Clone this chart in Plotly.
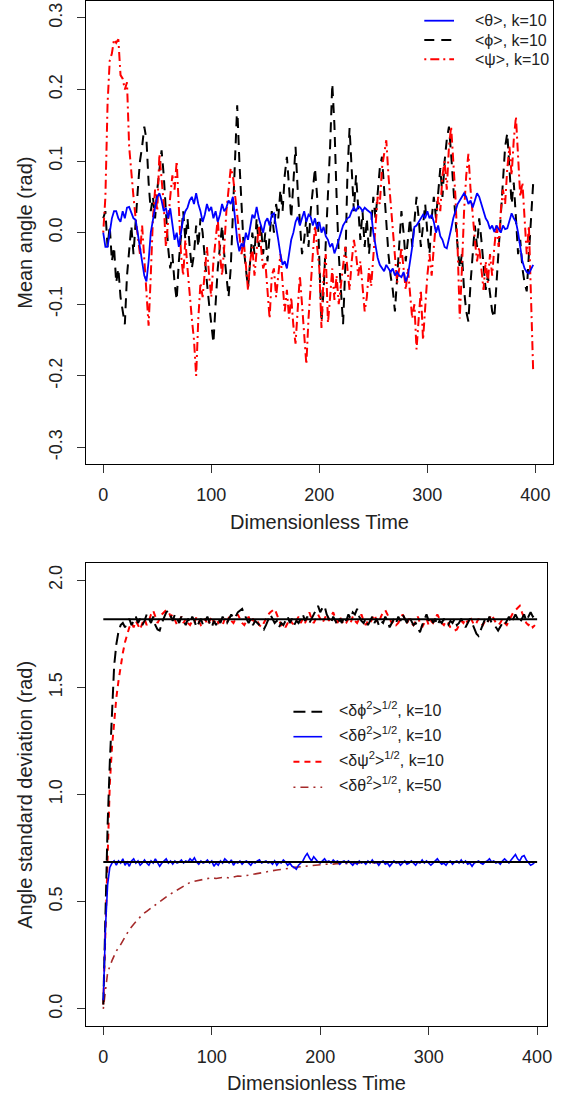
import plotly.graph_objects as go

# ---------------- data ----------------
# top panel: mean angles, sampled every 2 time units (t = 0..398)
theta_mean = [
    0.0, -0.02, -0.02, 0.0, 0.02, 0.03, 0.03, 0.02, 0.015, 0.03,
    0.02, 0.035, 0.036, 0.028, 0.02, 0.018, 0.0, -0.02, -0.04, -0.06,
    -0.068, -0.04, 0.0, 0.02, 0.035, 0.05, 0.055, 0.045, 0.03, 0.035,
    0.02, 0.034, 0.01, -0.01, 0.0, -0.02, 0.0, 0.02, 0.03, 0.035,
    0.045, 0.05, 0.04, 0.055, 0.04, 0.03, 0.015, 0.025, 0.04, 0.03,
    0.036, 0.02, 0.03, 0.015, 0.025, 0.04, 0.03, 0.035, 0.045, 0.04,
    0.05, 0.02, -0.01, -0.026, -0.015, -0.02, 0.0, -0.01, 0.01, 0.025,
    0.02, 0.036, 0.02, 0.01, 0.0, 0.015, 0.02, 0.01, 0.025, 0.027,
    0.01, -0.01, -0.03, -0.045, -0.04, -0.05, -0.03, -0.01, 0.0, 0.015,
    0.022, 0.01, 0.02, 0.03, 0.015, 0.025, 0.022, 0.01, 0.02, 0.005,
    0.015, 0.0, 0.008, -0.005, -0.01, -0.02, -0.015, -0.029, -0.02, -0.01,
    0.0, 0.01, 0.015, 0.02, 0.022, 0.03, 0.035, 0.03, 0.037, 0.035,
    0.03, 0.035, 0.032, 0.03, 0.027, 0.0, -0.02, -0.035, -0.045, -0.05,
    -0.054, -0.045, -0.05, -0.055, -0.05, -0.06, -0.055, -0.06, -0.062, -0.055,
    -0.068, -0.06, -0.04, -0.02, 0.008, 0.01, 0.015, 0.02, 0.025, 0.02,
    0.03, 0.02, 0.025, 0.015, 0.0, 0.01, -0.005, -0.01, -0.02, -0.022,
    -0.01, 0.005, 0.02, 0.03, 0.04, 0.045, 0.05, 0.055, 0.05, 0.04,
    0.045, 0.035, 0.045, 0.055, 0.05, 0.04, 0.032, 0.02, 0.015, 0.005,
    0.01, 0.001, 0.01, 0.005, 0.0, 0.01, 0.005, 0.006, 0.015, 0.027,
    0.02, 0.015, 0.0, -0.02, -0.04, -0.05, -0.055, -0.057, -0.05, -0.045,
]
phi_mean = [
    0.02, 0.03, -0.02, 0.01, -0.04, -0.02, -0.07, -0.05, -0.09, -0.11,
    -0.128, -0.06, -0.02, 0.01, -0.03, 0.02, 0.06, 0.1, 0.12, 0.148,
    0.13, 0.07, 0.03, 0.05, 0.02, 0.06, 0.09, 0.115, 0.08, 0.03,
    -0.02, -0.05, -0.03, -0.07, -0.094, -0.04, 0.0, 0.03, -0.01, 0.02,
    -0.02, -0.05, -0.03, 0.01, -0.02, 0.02, 0.0, -0.04, -0.07, -0.1,
    -0.13, -0.154, -0.1, -0.05, -0.02, 0.01, -0.03, -0.06, -0.09, -0.05,
    0.03, 0.12, 0.178, 0.1, 0.04, -0.02, -0.05, -0.077, -0.04, 0.0,
    -0.03, 0.02, -0.02, 0.01, -0.03, 0.0, -0.04, -0.01, 0.03, 0.0,
    0.04, 0.02, 0.06, 0.03, 0.08, 0.106, 0.06, 0.02, 0.07, 0.12,
    0.06, 0.01, -0.03, -0.01, 0.02, -0.02, 0.03, 0.06, 0.09, 0.05,
    -0.03, -0.124, -0.08, -0.02, 0.05, 0.12, 0.208, 0.15, 0.05, -0.03,
    -0.08, -0.128, -0.05, 0.08, 0.146, 0.09, 0.03, 0.08, 0.04, -0.01,
    0.03, -0.02, 0.02, -0.03, 0.01, 0.05, 0.02, 0.06, 0.09, 0.106,
    0.06, 0.02, -0.03, -0.06, -0.08, -0.11, -0.06, -0.02, 0.03, 0.0,
    -0.04, -0.01, 0.02, -0.02, 0.01, 0.05, 0.02, -0.02, 0.01, 0.04,
    0.0, -0.03, 0.02, 0.05, 0.02, 0.06, 0.09, 0.05, 0.1, 0.13,
    0.148, 0.11, 0.06, 0.02, -0.02, -0.05, -0.03, -0.08, -0.11, -0.124,
    -0.07, -0.03, 0.01, -0.02, 0.02, -0.01, -0.05, -0.08, -0.06, -0.09,
    -0.11, -0.119, -0.07, -0.03, 0.02, 0.08, 0.12, 0.139, 0.09, 0.04,
    0.07, 0.02, -0.03, -0.01, -0.05, -0.07, -0.082, -0.03, 0.03, 0.07,
]
psi_mean = [
    0.0, 0.05, 0.18, 0.24, 0.25, 0.27, 0.265, 0.27, 0.22, 0.215,
    0.2, 0.21, 0.12, 0.08, 0.05, 0.02, -0.01, -0.03, 0.01, -0.04,
    -0.08, -0.13, -0.06, 0.02, 0.06, 0.03, 0.11, 0.07, 0.04, -0.02,
    0.02, 0.05, 0.08, 0.06, 0.10, 0.04, -0.03, -0.06, -0.01, -0.05,
    -0.09, -0.12, -0.15, -0.20, -0.12, -0.07, -0.09, -0.05, -0.02, -0.06,
    -0.09, -0.04, -0.01, 0.02, -0.03, -0.06, -0.02, 0.03, 0.06, 0.09,
    0.08, 0.05, 0.02, 0.0, -0.03, -0.01, -0.05, -0.08, -0.04, -0.02,
    -0.06, -0.03, 0.01, -0.02, -0.05, -0.04, -0.08, -0.12, -0.06, -0.05,
    -0.09, -0.06, -0.03, -0.07, -0.11, -0.08, -0.12, -0.09, -0.13, -0.155,
    -0.1, -0.06, -0.1, -0.14, -0.184, -0.12, -0.07, -0.03, 0.01, -0.02,
    -0.05, -0.133, -0.06, -0.03, -0.126, -0.09, -0.05, -0.094, -0.06, -0.1,
    -0.07, -0.04, -0.02, -0.05, -0.08, -0.04, -0.01, -0.03, -0.06, -0.04,
    -0.08, -0.11, -0.09, -0.05, -0.075, -0.03, 0.02, 0.05, 0.04, 0.09,
    0.11, 0.129, 0.08, 0.04, 0.01, -0.03, -0.07, -0.05, -0.02, -0.05,
    -0.08, -0.05, -0.09, -0.12, -0.1, -0.163, -0.12, -0.08, -0.15, -0.1,
    -0.06, -0.03, -0.06, -0.02, 0.02, 0.05, 0.03, 0.08, 0.1, 0.06,
    0.12, 0.148, 0.1, 0.05, -0.02, -0.12, -0.05, 0.03, 0.08, 0.11,
    0.06, 0.02, -0.01, -0.04, -0.02, -0.05, -0.08, -0.04, -0.07, -0.03,
    -0.06, -0.02, 0.01, -0.02, 0.03, 0.06, 0.04, 0.09, 0.12, 0.08,
    0.13, 0.162, 0.1, 0.05, 0.07, 0.02, -0.03, 0.01, -0.08, -0.196,
]
t_top = [2 * i for i in range(len(theta_mean))]

# bottom panel: standard deviations, every 2 time units (t = 0..398)
phi_sd = [
    0.02, 0.45, 0.86, 1.15, 1.38, 1.6, 1.7, 1.76, 1.79, 1.80,
    1.78, 1.8, 1.82, 1.79, 1.81, 1.83, 1.8, 1.82, 1.79, 1.81,
    1.84, 1.82, 1.8, 1.83, 1.79, 1.77, 1.765, 1.8, 1.83, 1.85,
    1.858, 1.83, 1.81, 1.84, 1.82, 1.8, 1.83, 1.81, 1.79, 1.82,
    1.8, 1.83, 1.81, 1.78, 1.8, 1.82, 1.79, 1.81, 1.83, 1.8,
    1.78, 1.81, 1.79, 1.82, 1.8, 1.83, 1.81, 1.8, 1.82, 1.84,
    1.82, 1.83, 1.85, 1.86, 1.866, 1.84, 1.82, 1.8, 1.82, 1.79,
    1.81, 1.8, 1.79, 1.78, 1.77, 1.79, 1.82, 1.84, 1.82, 1.8,
    1.81, 1.78, 1.8, 1.79, 1.81, 1.83, 1.8, 1.82, 1.79, 1.81,
    1.8, 1.82, 1.84, 1.81, 1.83, 1.8, 1.82, 1.84, 1.86, 1.88,
    1.85, 1.87, 1.88, 1.84, 1.82, 1.8, 1.83, 1.81, 1.79, 1.82,
    1.8, 1.83, 1.81, 1.84, 1.82, 1.85, 1.84, 1.866, 1.83, 1.81,
    1.8, 1.82, 1.79, 1.81, 1.83, 1.8, 1.82, 1.79, 1.81, 1.8,
    1.83, 1.81, 1.78, 1.8, 1.82, 1.8, 1.83, 1.81, 1.84, 1.82,
    1.8, 1.83, 1.81, 1.79, 1.8, 1.78, 1.757, 1.79, 1.82, 1.84,
    1.81, 1.83, 1.8, 1.82, 1.79, 1.81, 1.8, 1.82, 1.8, 1.79,
    1.81, 1.8, 1.82, 1.79, 1.8, 1.82, 1.8, 1.78, 1.8, 1.82,
    1.8, 1.77, 1.75, 1.74, 1.77, 1.8, 1.82, 1.8, 1.83, 1.8,
    1.79, 1.78, 1.765, 1.78, 1.8, 1.79, 1.81, 1.83, 1.8, 1.82,
    1.84, 1.82, 1.8, 1.82, 1.84, 1.81, 1.83, 1.85, 1.83, 1.84,
]
theta_sd = [
    0.04, 0.38, 0.58, 0.66, 0.68, 0.69, 0.67, 0.69, 0.68, 0.7,
    0.67, 0.685, 0.665, 0.69, 0.7, 0.68, 0.69, 0.67, 0.68, 0.695,
    0.68, 0.67, 0.69, 0.68, 0.7, 0.685, 0.665, 0.68, 0.69, 0.7,
    0.68, 0.69, 0.675, 0.69, 0.68, 0.685, 0.695, 0.68, 0.69, 0.685,
    0.7, 0.69, 0.705, 0.685, 0.675, 0.69, 0.68, 0.685, 0.695, 0.68,
    0.69, 0.665, 0.68, 0.67, 0.69, 0.68, 0.7, 0.69, 0.68, 0.695,
    0.67, 0.685, 0.68, 0.69, 0.675, 0.685, 0.69, 0.68, 0.67, 0.685,
    0.68, 0.69, 0.695, 0.68, 0.685, 0.69, 0.68, 0.685, 0.675, 0.69,
    0.67, 0.685, 0.68, 0.695, 0.685, 0.67, 0.68, 0.665, 0.66, 0.651,
    0.67, 0.68, 0.69, 0.71, 0.725, 0.705, 0.69, 0.71, 0.695, 0.685,
    0.68, 0.69, 0.7, 0.685, 0.69, 0.68, 0.695, 0.685, 0.69, 0.675,
    0.685, 0.69, 0.68, 0.69, 0.68, 0.67, 0.685, 0.675, 0.69, 0.68,
    0.685, 0.675, 0.69, 0.68, 0.695, 0.68, 0.685, 0.67, 0.685, 0.69,
    0.675, 0.68, 0.665, 0.68, 0.69, 0.68, 0.685, 0.67, 0.68, 0.69,
    0.675, 0.68, 0.69, 0.68, 0.67, 0.685, 0.68, 0.695, 0.68, 0.69,
    0.68, 0.67, 0.68, 0.69, 0.7, 0.685, 0.675, 0.68, 0.67, 0.685,
    0.69, 0.675, 0.685, 0.69, 0.68, 0.695, 0.68, 0.69, 0.675, 0.68,
    0.665, 0.68, 0.685, 0.69, 0.68, 0.675, 0.685, 0.69, 0.7, 0.685,
    0.69, 0.68, 0.685, 0.675, 0.69, 0.7, 0.69, 0.68, 0.695, 0.71,
    0.72, 0.7, 0.69, 0.71, 0.715, 0.695, 0.68, 0.67, 0.675, 0.685,
]
psi_sd = [
    0.02, 0.4, 0.8, 1.05, 1.22, 1.35, 1.45, 1.53, 1.6, 1.66,
    1.71, 1.75, 1.78, 1.8, 1.78, 1.81, 1.79, 1.77, 1.8, 1.82,
    1.79, 1.81, 1.84, 1.858, 1.83, 1.8, 1.82, 1.84, 1.85, 1.86,
    1.855, 1.83, 1.84, 1.81, 1.79, 1.81, 1.83, 1.8, 1.82, 1.8,
    1.79, 1.81, 1.8, 1.83, 1.81, 1.79, 1.8, 1.82, 1.79, 1.81,
    1.83, 1.8, 1.82, 1.8, 1.81, 1.79, 1.82, 1.8, 1.83, 1.81,
    1.8, 1.82, 1.84, 1.82, 1.8, 1.79, 1.81, 1.83, 1.8, 1.82,
    1.8, 1.81, 1.79, 1.78, 1.8, 1.82, 1.84, 1.85, 1.86, 1.866,
    1.84, 1.81, 1.79, 1.8, 1.78, 1.8, 1.82, 1.8, 1.79, 1.81,
    1.83, 1.8, 1.82, 1.8, 1.83, 1.85, 1.82, 1.8, 1.82, 1.84,
    1.82, 1.8, 1.82, 1.84, 1.81, 1.83, 1.85, 1.82, 1.8, 1.83,
    1.81, 1.79, 1.8, 1.82, 1.8, 1.83, 1.81, 1.8, 1.82, 1.84,
    1.81, 1.79, 1.81, 1.8, 1.82, 1.84, 1.81, 1.8, 1.83, 1.85,
    1.86, 1.84, 1.82, 1.8, 1.81, 1.79, 1.8, 1.82, 1.84, 1.82,
    1.8, 1.82, 1.8, 1.79, 1.81, 1.83, 1.8, 1.78, 1.8, 1.82,
    1.79, 1.81, 1.8, 1.82, 1.84, 1.82, 1.8, 1.79, 1.81, 1.8,
    1.78, 1.77, 1.765, 1.77, 1.79, 1.81, 1.8, 1.82, 1.8, 1.83,
    1.81, 1.79, 1.8, 1.82, 1.8, 1.79, 1.81, 1.8, 1.82, 1.84,
    1.82, 1.8, 1.79, 1.8, 1.82, 1.8, 1.79, 1.81, 1.83, 1.85,
    1.86, 1.87, 1.88, 1.85, 1.82, 1.8, 1.79, 1.8, 1.78, 1.79,
]
t_sd = [2 * i for i in range(len(phi_sd))]

# k=50 theta standard deviation, every 4 time units (t = 0..396)
theta50_sd = [
    0.0, 0.17, 0.225, 0.27, 0.3, 0.335, 0.37, 0.395, 0.42, 0.44,
    0.455, 0.47, 0.487, 0.5, 0.515, 0.53, 0.542, 0.555, 0.565, 0.58,
    0.59, 0.595, 0.6, 0.605, 0.61, 0.612, 0.608, 0.612, 0.615, 0.61,
    0.615, 0.62, 0.618, 0.622, 0.625, 0.63, 0.632, 0.635, 0.64, 0.645,
    0.648, 0.65, 0.652, 0.656, 0.66, 0.662, 0.665, 0.665, 0.667, 0.67,
    0.672, 0.674, 0.676, 0.675, 0.678, 0.676, 0.679, 0.68, 0.678, 0.681,
    0.68, 0.682, 0.68, 0.683, 0.681, 0.683, 0.682, 0.684, 0.682, 0.683,
    0.684, 0.682, 0.685, 0.683, 0.684, 0.685, 0.683, 0.684, 0.686, 0.684,
    0.685, 0.683, 0.685, 0.686, 0.684, 0.685, 0.686, 0.684, 0.685, 0.686,
    0.685, 0.684, 0.686, 0.685, 0.684, 0.686, 0.685, 0.684, 0.686, 0.685,
]
t_sd50 = [4 * i for i in range(len(theta50_sd))]

# reference (equilibrium) levels drawn as horizontal lines
ref_levels = [1.818, 0.685]
ref_x = [0, 400]

x_ticks = [0, 100, 200, 300, 400]
y1_ticks = [-0.3, -0.2, -0.1, 0.0, 0.1, 0.2, 0.3]
y1_labels = ["-0.3", "-0.2", "-0.1", "0.0", "0.1", "0.2", "0.3"]
y2_ticks = [0.0, 0.5, 1.0, 1.5, 2.0]
y2_labels = ["0.0", "0.5", "1.0", "1.5", "2.0"]

top_legend = ["&lt;θ&gt;, k=10", "&lt;ϕ&gt;, k=10", "&lt;ψ&gt;, k=10"]
bot_legend = [
    "&lt;δϕ<sup>2</sup>&gt;<sup>1/2</sup>, k=10",
    "&lt;δθ<sup>2</sup>&gt;<sup>1/2</sup>, k=10",
    "&lt;δψ<sup>2</sup>&gt;<sup>1/2</sup>, k=10",
    "&lt;δθ<sup>2</sup>&gt;<sup>1/2</sup>, k=50",
]

# ---------------- styling ----------------
W, H = 577, 1098
FONT = "Liberation Sans, Arial, Helvetica, sans-serif"
TXT = "#222222"

BLUE = "#0000FF"
RED = "#FF0000"
BLACK = "#000000"
BROWN = "#A52A2A"

top_styles = [
    dict(color=BLUE, width=1.8, dash="solid"),
    dict(color=BLACK, width=2, dash="10px,7px"),
    dict(color=RED, width=2, dash="2px,4px,9px,4px"),
]
bot_styles = [
    dict(color=BLACK, width=2, dash="12px,6px"),
    dict(color=BLUE, width=1.6, dash="solid"),
    dict(color=RED, width=2, dash="6px,5px"),
    dict(color=BROWN, width=1.6, dash="2px,5px,8px,5px"),
]


def fx(x):
    return x / W


def fy(y):
    return 1 - y / H


fig = go.Figure()

# top panel traces (black, red, then blue on top)
fig.add_trace(go.Scatter(x=t_top, y=phi_mean, mode="lines", line=top_styles[1],
                         name="<ϕ>, k=10", xaxis="x", yaxis="y", showlegend=False))
fig.add_trace(go.Scatter(x=t_top, y=psi_mean, mode="lines", line=top_styles[2],
                         name="<ψ>, k=10", xaxis="x", yaxis="y", showlegend=False))
fig.add_trace(go.Scatter(x=t_top, y=theta_mean, mode="lines", line=top_styles[0],
                         name="<θ>, k=10", xaxis="x", yaxis="y", showlegend=False))

# bottom panel traces
fig.add_trace(go.Scatter(x=t_sd50, y=theta50_sd, mode="lines", line=bot_styles[3],
                         name="k=50", xaxis="x2", yaxis="y2", showlegend=False))
fig.add_trace(go.Scatter(x=t_sd, y=psi_sd, mode="lines", line=bot_styles[2],
                         name="psi k=10", xaxis="x2", yaxis="y2", showlegend=False))
fig.add_trace(go.Scatter(x=t_sd, y=phi_sd, mode="lines", line=bot_styles[0],
                         name="phi k=10", xaxis="x2", yaxis="y2", showlegend=False))
fig.add_trace(go.Scatter(x=t_sd, y=theta_sd, mode="lines", line=bot_styles[1],
                         name="theta k=10", xaxis="x2", yaxis="y2", showlegend=False))
for lvl in ref_levels:
    fig.add_trace(go.Scatter(x=ref_x, y=[lvl, lvl], mode="lines",
                             line=dict(color=BLACK, width=2), xaxis="x2", yaxis="y2",
                             showlegend=False, hoverinfo="skip"))

axis_common = dict(
    showgrid=False, zeroline=False, showline=True, linecolor=BLACK, linewidth=1,
    mirror=True, ticks="outside", ticklen=8, tickwidth=1, tickcolor="#333333",
    tickfont=dict(family=FONT, size=18, color=TXT),
)

fig.update_layout(
    width=W, height=H,
    margin=dict(l=0, r=0, t=0, b=0),
    paper_bgcolor="white", plot_bgcolor="white",
    showlegend=False,
    xaxis=dict(domain=[fx(86.7), fx(557.5)], range=[-16, 416], anchor="y",
               tickvals=x_ticks, ticklabelstandoff=6, **axis_common),
    yaxis=dict(domain=[fy(464.3), fy(1.0)], range=[-0.3235, 0.3235], anchor="x",
               tickvals=y1_ticks, ticktext=y1_labels, tickangle=-90,
               ticklabelstandoff=8, **axis_common),
    xaxis2=dict(domain=[fx(86.7), fx(552)], range=[-16, 409.3], anchor="y2",
                tickvals=x_ticks, ticklabelstandoff=6, **axis_common),
    yaxis2=dict(domain=[fy(1026), fy(563)], range=[-0.08, 2.08], anchor="x2",
                tickvals=y2_ticks, ticktext=y2_labels, tickangle=-90,
                ticklabelstandoff=8, **axis_common),
)

annotations = []
shapes = []

# axis titles
for text, x, y, ang in [
    ("Mean angle (rad)", 25, 233, -90),
    ("Dimensionless Time", 322, 522, 0),
    ("Angle standard deviation (rad)", 25, 795, -90),
    ("Dimensionless Time", 319, 1083, 0),
]:
    annotations.append(dict(text=text, x=fx(x), y=fy(y), xref="paper", yref="paper",
                            showarrow=False, textangle=ang, xanchor="center", yanchor="middle",
                            font=dict(family=FONT, size=20, color=TXT)))

# top legend
top_rows = [20.7, 40.0, 59.3]
for i, row in enumerate(top_rows):
    st = top_styles[i]
    shapes.append(dict(type="line", xref="paper", yref="paper",
                       x0=fx(428), x1=fx(458), y0=fy(row), y1=fy(row),
                       line=dict(color=st["color"], width=st["width"], dash=st["dash"])))
    annotations.append(dict(text=top_legend[i], x=fx(477), y=fy(row), xref="paper", yref="paper",
                            showarrow=False, xanchor="left", yanchor="middle",
                            font=dict(family=FONT, size=16, color=TXT)))

# bottom legend
bot_rows = [711.7, 736.7, 761.7, 787.3]
for i, row in enumerate(bot_rows):
    st = bot_styles[i]
    shapes.append(dict(type="line", xref="paper", yref="paper",
                       x0=fx(296), x1=fx(325), y0=fy(row), y1=fy(row),
                       line=dict(color=st["color"], width=st["width"], dash=st["dash"])))
    annotations.append(dict(text=bot_legend[i], x=fx(340), y=fy(row - 3), xref="paper", yref="paper",
                            showarrow=False, xanchor="left", yanchor="middle",
                            font=dict(family=FONT, size=16, color=TXT)))

fig.update_layout(annotations=annotations, shapes=shapes)

fig.write_html("out.html")
